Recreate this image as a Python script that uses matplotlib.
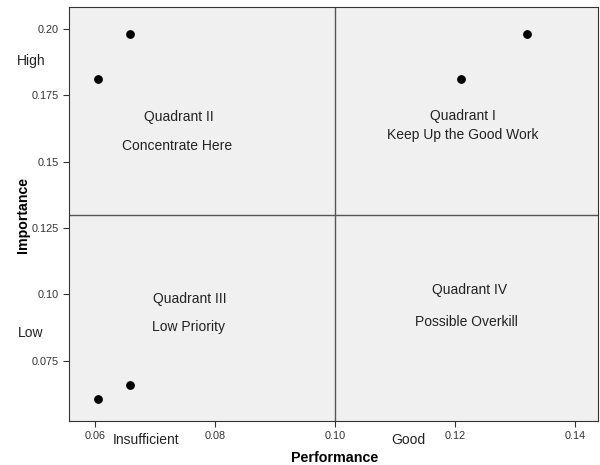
import matplotlib
matplotlib.use('Agg')
import matplotlib.pyplot as plt

# DATOS
performance = [0.0604, 0.0658, 0.121, 0.132, 0.0604, 0.0658]
importance = [0.1813, 0.198, 0.1813, 0.198, 0.0606, 0.066]
x_ticks = [0.06, 0.08, 0.10, 0.12, 0.14]
x_tick_labels = ['0.06', '0.08', '0.10', '0.12', '0.14']
y_ticks = [0.075, 0.10, 0.125, 0.15, 0.175, 0.20]
y_tick_labels = ['0.075', '0.10', '0.125', '0.15', '0.175', '0.20']
x_split = 0.10
y_split = 0.13

plt.rcParams['font.family'] = ['Liberation Sans', 'DejaVu Sans']

fig = plt.figure(figsize=(6, 4.65), dpi=100)
W, H = 600, 465
ax = fig.add_axes([69 / W, 1 - 421 / H, (598 - 69) / W, (421 - 7) / H])
ax.set_facecolor('#f0f0f0')

ax.scatter(performance, importance, s=28, color='black', zorder=3)
ax.axvline(x_split, color='#555555', lw=1)
ax.axhline(y_split, color='#555555', lw=1)

ax.set_xlim(0.0556, 0.1438)
ax.set_ylim(0.0523, 0.2083)
ax.set_xticks(x_ticks)
ax.set_xticklabels(x_tick_labels)
ax.set_yticks(y_ticks)
ax.set_yticklabels(y_tick_labels)
ax.tick_params(labelsize=7.8, length=4, color='#333333', labelcolor='#333333')
for s in ax.spines.values():
    s.set_color('#333333')

# textos de cuadrantes
kw = dict(ha='center', va='center', fontsize=10, color='#222222')
ax.text(0.0739, 0.1668, 'Quadrant II', **kw)
ax.text(0.0737, 0.1558, 'Concentrate Here', **kw)
ax.text(0.1212, 0.1672, 'Quadrant I', **kw)
ax.text(0.1212, 0.1601, 'Keep Up the Good Work', **kw)
ax.text(0.0757, 0.0984, 'Quadrant III', **kw)
ax.text(0.0756, 0.0876, 'Low Priority', **kw)
ax.text(0.1224, 0.1018, 'Quadrant IV', **kw)
ax.text(0.1219, 0.0895, 'Possible Overkill', **kw)

# textos fuera del grafico
fig.text(31 / W, 1 - 61 / H, 'High', ha='center', va='center', fontsize=10, color='#222222')
fig.text(31 / W, 1 - 333 / H, 'Low', ha='center', va='center', fontsize=10, color='#222222')
fig.text(146 / W, 1 - 440 / H, 'Insufficient', ha='center', va='center', fontsize=10, color='#222222')
fig.text(408 / W, 1 - 440 / H, 'Good', ha='center', va='center', fontsize=10, color='#222222')
fig.text(335 / W, 1 - 458 / H, 'Performance', ha='center', va='center', fontsize=10.3, fontweight='bold')
fig.text(23 / W, 1 - 215 / H, 'Importance', ha='center', va='center', fontsize=10.2, fontweight='bold', rotation=90)

fig.savefig('out.png', dpi=100)
